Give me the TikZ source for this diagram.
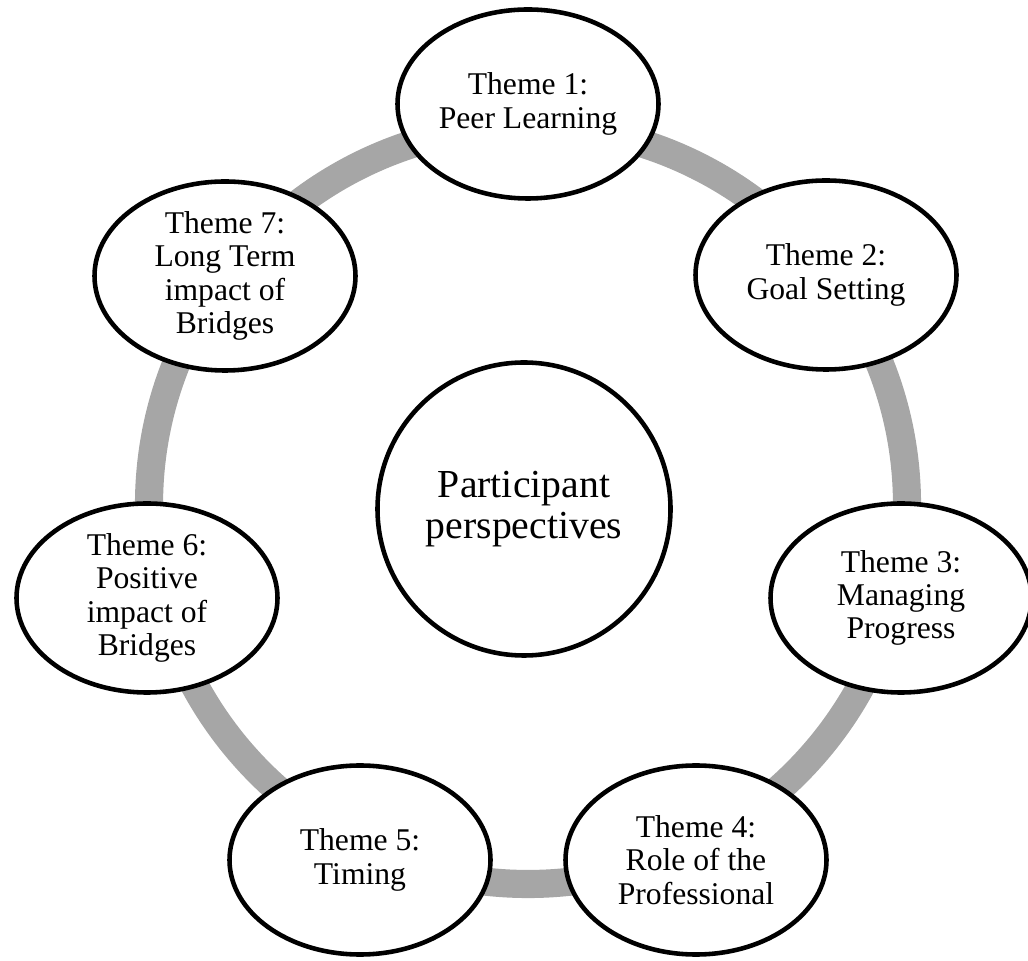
\documentclass[tikz,border=0pt]{standalone}
\usepackage{fontspec}
\setmainfont{Liberation Serif}
\usetikzlibrary{shapes.geometric}
\definecolor{ringgray}{HTML}{A6A6A6}

\begin{document}
\begin{tikzpicture}[%
    theme/.style={%
      ellipse,
      draw,
      fill=white,
      line width=2.6pt,
      minimum width=5.22cm,
      minimum height=3.78cm,
      inner sep=0pt,
      align=center,
      font=\fontsize{18}{19}\selectfont
    },
    hub/.style={%
      circle,
      draw,
      fill=white,
      line width=2.6pt,
      minimum size=5.86cm,
      inner sep=0pt,
      align=center,
      font=\fontsize{22.6}{23.5}\selectfont
    },
    ring/.style={%
      draw=ringgray,
      line width=16pt
    }
  ]
    \useasboundingbox (0,0) rectangle (20.56,19.2);
    \coordinate (mid) at (10.56,9.1);
    \draw[ring] (mid) circle (7.58);

    \node[hub]   (hub) at (10.48,9.02)  {Participant\\perspectives};
    \node[theme] (t1)  at (10.56,17.12) {Theme 1:\\Peer Learning};
    \node[theme] (t2)  at (16.52,13.70) {Theme 2:\\Goal Setting};
    \node[theme] (t3)  at (18.02,7.24)  {Theme 3:\\Managing\\Progress};
    \node[theme] (t4)  at (13.92,2.00)  {Theme 4:\\Role of the\\Professional};
    \node[theme] (t5)  at (7.20,2.00)   {Theme 5:\\Timing};
    \node[theme] (t6)  at (2.94,7.24)   {Theme 6:\\Positive\\impact of\\Bridges};
    \node[theme] (t7)  at (4.50,13.68)  {Theme 7:\\Long Term\\impact of\\Bridges};
  \end{tikzpicture}
\end{document}
